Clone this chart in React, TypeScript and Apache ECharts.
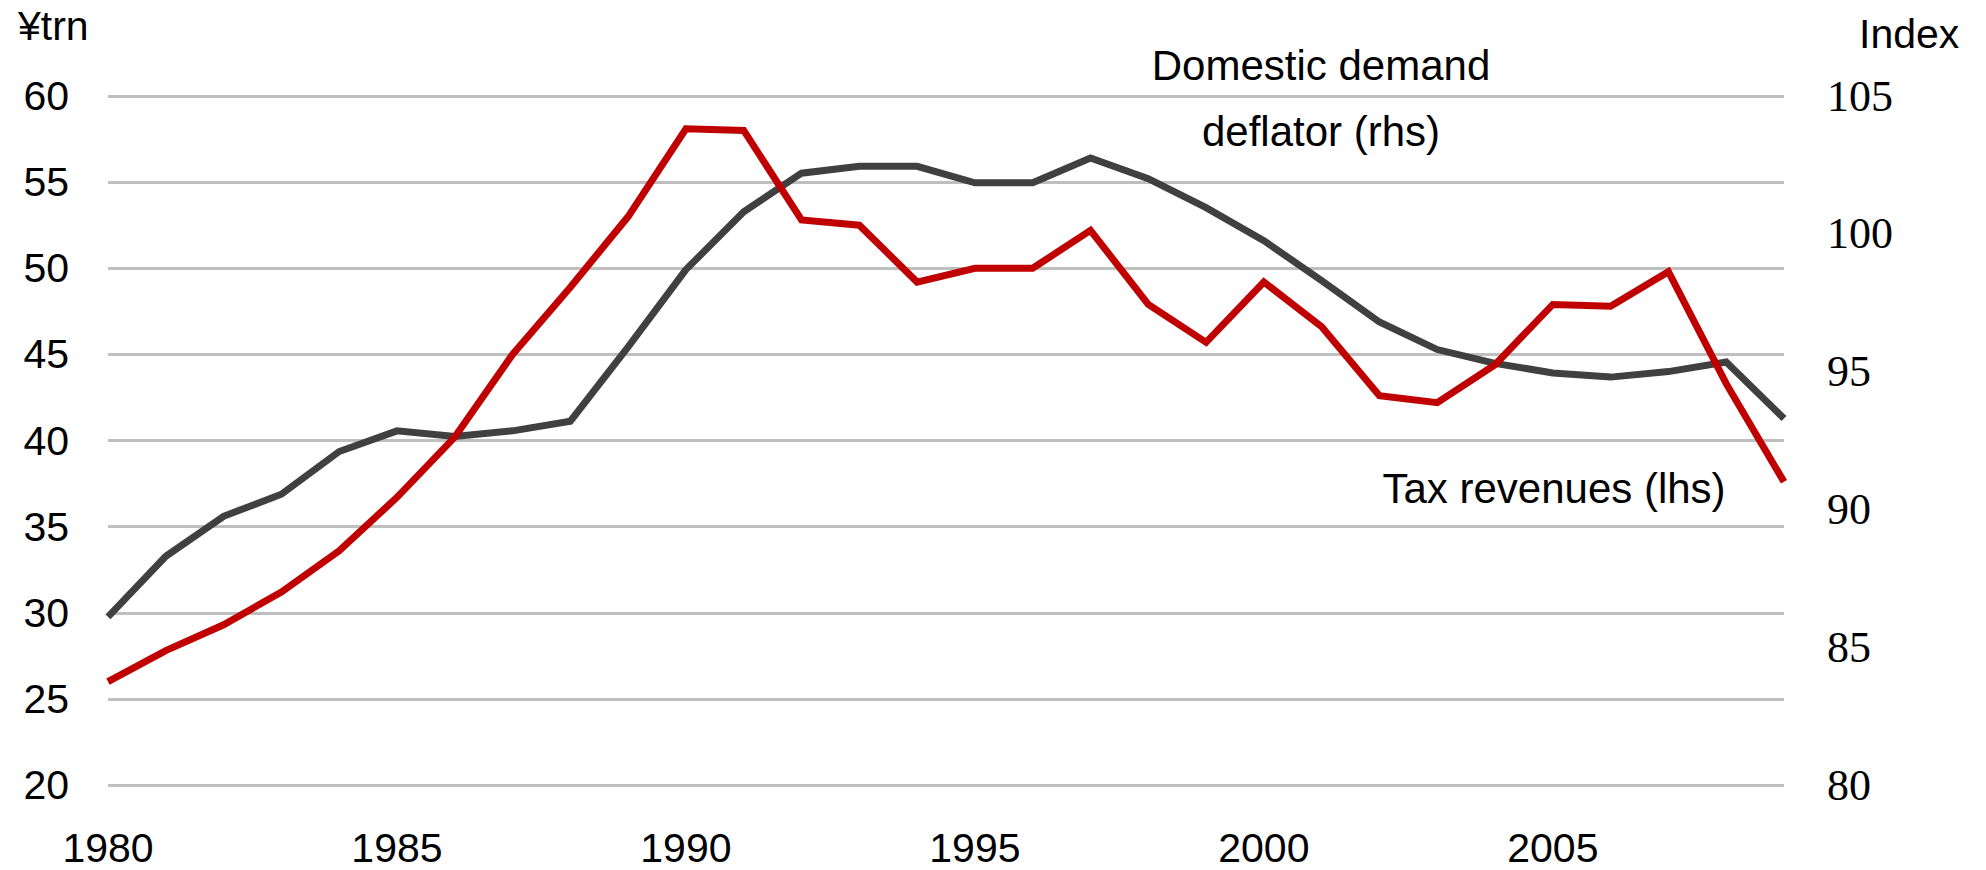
import React, { useEffect, useRef } from "react";
import * as echarts from "echarts";

const years: string[] = [];
for (let y = 1980; y <= 2009; y++) years.push(String(y));

const taxRevenues = [
  26.0, 27.8, 29.3, 31.2, 33.6, 36.7, 40.2, 45.0, 48.9, 53.0,
  58.1, 58.0, 52.8, 52.5, 49.2, 50.0, 50.0, 52.2, 47.9, 45.7,
  49.2, 46.6, 42.6, 42.2, 44.4, 47.9, 47.8, 49.8, 43.3, 37.6,
];

const deflator = [
  86.1, 88.3, 89.75, 90.55, 92.1, 92.85, 92.65, 92.85, 93.2, 95.9,
  98.7, 100.8, 102.2, 102.45, 102.45, 101.85, 101.85, 102.75, 102.0, 100.95,
  99.75, 98.3, 96.8, 95.8, 95.3, 94.95, 94.8, 95.0, 95.35, 93.3,
];

const leftTicks = { min: 20, max: 60, interval: 5 };
const rightTicks = { min: 80, max: 105, interval: 5 };

const SANS = "'Liberation Sans', Arial, sans-serif";
const SERIF = "'Liberation Serif', 'Times New Roman', serif";

export default function App() {
  const ref = useRef<HTMLDivElement>(null);
  useEffect(() => {
    if (!ref.current) return;
    const chart = echarts.init(ref.current, undefined, { renderer: "svg" });
    chart.setOption({
      animation: false,
      backgroundColor: "#ffffff",
      grid: { left: 108, right: 202, top: 96, bottom: 85, containLabel: false },
      xAxis: {
        type: "category",
        data: years,
        boundaryGap: false,
        axisLine: { show: false },
        axisTick: { show: false },
        splitLine: { show: false },
        axisLabel: {
          interval: 4,
          margin: 42,
          color: "#000",
          fontFamily: SANS,
          fontSize: 41,
          lineHeight: 41,
        },
      },
      yAxis: [
        {
          type: "value",
          position: "left",
          min: leftTicks.min,
          max: leftTicks.max,
          interval: leftTicks.interval,
          axisLine: { show: false },
          axisTick: { show: false },
          splitLine: { show: true, lineStyle: { color: "#BFBFBF", width: 3 } },
          axisLabel: {
            margin: 39,
            color: "#000",
            fontFamily: SANS,
            fontSize: 41,
            lineHeight: 41,
          },
        },
        {
          type: "value",
          position: "right",
          min: rightTicks.min,
          max: rightTicks.max,
          interval: rightTicks.interval,
          axisLine: { show: false },
          axisTick: { show: false },
          splitLine: { show: false },
          axisLabel: {
            margin: 43,
            color: "#000",
            fontFamily: SERIF,
            fontSize: 44,
            lineHeight: 44,
          },
        },
      ],
      series: [
        {
          name: "Tax revenues (lhs)",
          type: "line",
          yAxisIndex: 0,
          data: taxRevenues,
          showSymbol: false,
          symbol: "none",
          lineStyle: { color: "#C00000", width: 7, join: "miter", cap: "butt" },
          z: 3,
        },
        {
          name: "Domestic demand deflator (rhs)",
          type: "line",
          yAxisIndex: 1,
          data: deflator,
          showSymbol: false,
          symbol: "none",
          lineStyle: { color: "#404040", width: 7, join: "miter", cap: "butt" },
          z: 2,
        },
      ],
      graphic: [
        {
          type: "text",
          left: 18,
          top: 5,
          style: { text: "¥trn", font: `41px ${SANS}`, fill: "#000" },
        },
        {
          type: "text",
          left: 1859,
          top: 13,
          style: { text: "Index", font: `41px ${SANS}`, fill: "#000" },
        },
        {
          type: "text",
          x: 1321,
          y: 65,
          style: {
            text: "Domestic demand",
            font: `42px ${SANS}`,
            fill: "#000",
            align: "center",
            verticalAlign: "middle",
          },
        },
        {
          type: "text",
          x: 1321,
          y: 131,
          style: {
            text: "deflator (rhs)",
            font: `42px ${SANS}`,
            fill: "#000",
            align: "center",
            verticalAlign: "middle",
          },
        },
        {
          type: "text",
          x: 1554,
          y: 488,
          style: {
            text: "Tax revenues (lhs)",
            font: `42px ${SANS}`,
            fill: "#000",
            align: "center",
            verticalAlign: "middle",
          },
        },
      ],
    });
    return () => chart.dispose();
  }, []);
  return (
    <div
      ref={ref}
      style={{ position: "absolute", left: 0, top: 0, width: 1986, height: 870 }}
    />
  );
}
